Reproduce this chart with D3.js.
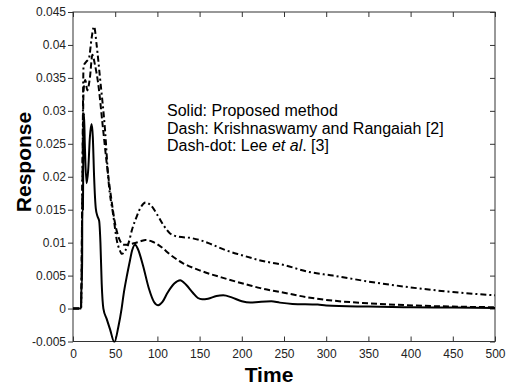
<!DOCTYPE html>
<html>
<head>
<meta charset="utf-8">
<script src="https://cdn.jsdelivr.net/npm/d3@7"></script>
<style>
  html, body { margin: 0; padding: 0; background: #fff; }
  svg { display: block; }
</style>
</head>
<body>
<svg id="chart" width="510" height="387"></svg>
<script>
// ---- data ----
const xTicks = [0, 50, 100, 150, 200, 250, 300, 350, 400, 450, 500];
const yTicks = [-0.005, 0, 0.005, 0.01, 0.015, 0.02, 0.025, 0.03, 0.035, 0.04, 0.045];
const yTickLabels = ["-0.005", "0", "0.005", "0.01", "0.015", "0.02", "0.025", "0.03", "0.035", "0.04", "0.045"];

// Solid: Proposed method
const solidTime = [0, 9.5, 10, 10.8, 11, 11.8, 12.3, 13, 14, 16, 18, 20, 22, 23.5, 25, 27, 29, 31, 32.5, 34, 36,
  40, 44, 49, 53.7, 57.6, 60, 63.6, 67.5, 70, 73.5, 77, 83, 90, 96, 101, 106, 112, 120, 127, 134, 142, 148, 153,
  160, 170, 178, 188, 200, 210, 220, 235, 245, 260, 290, 300, 350, 400, 450, 500];
const solidValue = [0, 0, 0.0035, 0.0035, 0.015, 0.015, 0.0258, 0.0296, 0.025, 0.019, 0.021, 0.026, 0.028, 0.026, 0.02,
  0.0152, 0.0140, 0.0133, 0.0100, 0.0038, 0,
  -0.0016, -0.0032, -0.0051, -0.0028, 0, 0.0022, 0.0048, 0.0073, 0.0088, 0.0097, 0.0090, 0.0065, 0.0030, 0.0010, 0.0005,
  0.0010, 0.0024, 0.0038, 0.0043, 0.0036, 0.0024, 0.0016, 0.0014,
  0.0015, 0.0019, 0.0020, 0.0017, 0.0011, 0.0009, 0.0010, 0.0011, 0.0009, 0.0007, 0.0006, 0.00045, 0.0003, 0.0002, 0.00015, 0.0001];

// Dash: Krishnaswamy and Rangaiah [2]
const dashTime = [0, 9.5, 11, 12.5, 14.5, 17, 20, 23, 26, 30, 35, 40, 45, 50, 55, 60, 65, 72, 80, 86, 95, 105, 115,
  130, 150, 182, 210, 222, 250, 278, 308, 350, 407, 450, 500];
const dashValue = [0, 0, 0.017, 0.033, 0.0347, 0.0331, 0.035, 0.0385, 0.037, 0.034, 0.028, 0.022, 0.017, 0.0128, 0.0105,
  0.0097, 0.0097, 0.0099, 0.0102, 0.0104, 0.0101, 0.0093, 0.0082,
  0.0069, 0.0058, 0.0045, 0.0035, 0.0031, 0.0024, 0.0017, 0.0012, 0.0008, 0.00045, 0.0003, 0.0002];

// Dash-dot: Lee et al. [3]
const dashDotTime = [0, 9.5, 11, 12.5, 16, 19, 22, 25, 28, 32, 38, 42, 48, 52, 55, 58, 62, 66, 70, 75, 80, 86, 92,
  100, 108, 115, 125, 140, 150, 165, 182, 200, 222, 250, 278, 308, 350, 407, 450, 500];
const dashDotValue = [0, 0, 0.018, 0.0368, 0.0375, 0.038, 0.041, 0.0428, 0.040, 0.035, 0.027, 0.0195, 0.0139, 0.0103,
  0.0090, 0.0083, 0.0088, 0.0100, 0.0120, 0.0138, 0.0153, 0.0161, 0.0157,
  0.0142, 0.0125, 0.0114, 0.0109, 0.0107, 0.0104, 0.0097, 0.0088, 0.0081, 0.0073, 0.0066, 0.0056, 0.0050, 0.0041,
  0.0031, 0.0025, 0.0020];

// ---- layout ----
const svg = d3.select("#chart");
const pLeft = 73, pRight = 495, pTop = 12, pBottom = 341.5;

const x = d3.scaleLinear().domain([0, 500]).range([pLeft, pRight]);
const y = d3.scaleLinear().domain([-0.005, 0.045]).range([pBottom, pTop]);

// frame
svg.append("rect")
  .attr("x", pLeft).attr("y", pTop)
  .attr("width", pRight - pLeft).attr("height", pBottom - pTop)
  .attr("fill", "none").attr("stroke", "#333").attr("stroke-width", 1);

// axes
const fmtY = d => yTickLabels[yTicks.indexOf(d)];
const bottomAxis = d3.axisBottom(x).tickValues(xTicks).tickSizeInner(-5).tickSizeOuter(0).tickPadding(8);
const topAxis = d3.axisTop(x).tickValues(xTicks).tickSizeInner(-5).tickSizeOuter(0).tickFormat("");
const leftAxis = d3.axisLeft(y).tickValues(yTicks).tickSizeInner(5).tickSizeOuter(0).tickPadding(2).tickFormat(fmtY);
const rightAxis = d3.axisRight(y).tickValues(yTicks).tickSizeInner(-5).tickSizeOuter(0).tickFormat("");

function styleAxis(g) {
  g.select(".domain").remove();
  g.selectAll(".tick line").attr("stroke", "#333");
  g.selectAll(".tick text").attr("font-family", "'Liberation Sans', Arial, sans-serif").attr("font-size", 12).attr("fill", "#222");
}
svg.append("g").attr("transform", `translate(0,${pBottom})`).call(bottomAxis).call(styleAxis);
svg.append("g").attr("transform", `translate(0,${pTop})`).call(topAxis).call(styleAxis);
svg.append("g").attr("transform", `translate(${pLeft},0)`).call(leftAxis).call(styleAxis);
svg.append("g").attr("transform", `translate(${pRight},0)`).call(rightAxis).call(styleAxis);

// lines
svg.append("clipPath").attr("id", "clip").append("rect")
  .attr("x", pLeft).attr("y", pTop - 1).attr("width", pRight - pLeft).attr("height", pBottom - pTop + 2);

const line = d3.line().x(d => x(d[0])).y(d => y(d[1])).curve(d3.curveMonotoneX);
const series = [
  { t: dashDotTime, v: dashDotValue, dash: "6,3,2,3" },
  { t: dashTime, v: dashValue, dash: "6,3" },
  { t: solidTime, v: solidValue, dash: null }
];
const plot = svg.append("g").attr("clip-path", "url(#clip)");
series.forEach(s => {
  const pts = s.t.map((t, i) => [t, s.v[i]]);
  plot.append("path").datum(pts)
    .attr("d", line)
    .attr("fill", "none")
    .attr("stroke", "#000")
    .attr("stroke-width", 2)
    .attr("stroke-linejoin", "round")
    .attr("stroke-dasharray", s.dash);
});

// annotation
const ann = svg.append("g")
  .attr("font-family", "'Liberation Sans', Arial, sans-serif")
  .attr("font-size", 16).attr("fill", "#000");
ann.append("text").attr("x", 167).attr("y", 116).text("Solid: Proposed method");
ann.append("text").attr("x", 167).attr("y", 133.5).text("Dash: Krishnaswamy and Rangaiah [2]");
const t3 = ann.append("text").attr("x", 167).attr("y", 151);
t3.append("tspan").text("Dash-dot: Lee ");
t3.append("tspan").attr("font-style", "italic").text("et al");
t3.append("tspan").text(". [3]");

// axis titles
svg.append("text")
  .attr("x", 269).attr("y", 382)
  .attr("text-anchor", "middle")
  .attr("font-family", "'Liberation Sans', Arial, sans-serif")
  .attr("font-size", 21).attr("font-weight", "bold")
  .text("Time");
svg.append("text")
  .attr("transform", "translate(31,162) rotate(-90)")
  .attr("text-anchor", "middle")
  .attr("font-family", "'Liberation Sans', Arial, sans-serif")
  .attr("font-size", 21).attr("font-weight", "bold")
  .text("Response");
</script>
</body>
</html>
